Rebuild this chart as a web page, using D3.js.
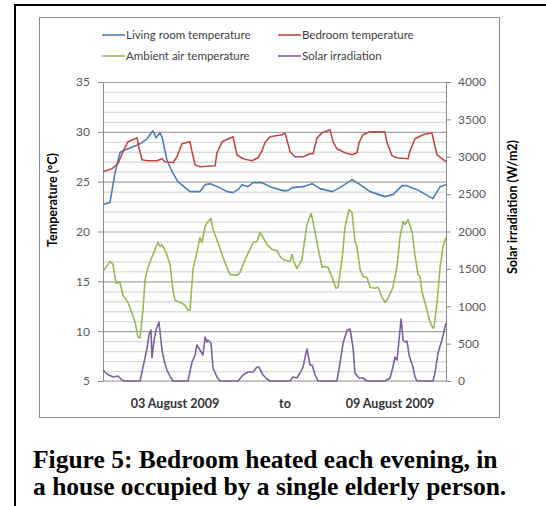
<!DOCTYPE html>
<html>
<head>
<meta charset="utf-8">
<script src="https://cdn.jsdelivr.net/npm/d3@7"></script>
<style>
  body { margin: 0; background: #fff; }
  svg { display: block; }
</style>
</head>
<body>
<div id="chart"></div>
<script>
// hours since start of 03 Aug 2009, value
const livingRoom = [
  [0, 22.7], [3.4, 22.9], [5.9, 25.9], [8.3, 27.9], [9.8, 28.1], [14.7, 28.5], [18.1, 28.8],
  [21.6, 29.3], [24.0, 30.0], [24.5, 30.1], [26.0, 29.4], [27.9, 29.9], [28.9, 29.5], [31.3, 27.2],
  [33.8, 26.0], [36.7, 25.0], [40.2, 24.4], [42.6, 24.0], [47.5, 24.0], [50.0, 24.7], [52.4, 24.8],
  [56.3, 24.5], [60.7, 24.0], [63.7, 23.9], [66.1, 24.2], [68.1, 24.7], [71.0, 24.5], [73.5, 24.9],
  [77.9, 24.9], [81.8, 24.5], [88.2, 24.1], [90.6, 24.1], [92.6, 24.4], [98.0, 24.5], [102.4, 24.8],
  [106.3, 24.3], [112.2, 24.0], [116.1, 24.4], [122.0, 25.2], [125.9, 24.7], [130.8, 24.0],
  [138.1, 23.5], [142.0, 23.7], [146.5, 24.6], [148.9, 24.6], [153.8, 24.2], [161.6, 23.3],
  [165.1, 24.5], [168, 24.7]
];
const bedroom = [
  [0, 26.0], [4.4, 26.3], [7.3, 26.8], [9.8, 28.0], [12.2, 29.0], [15.7, 29.3], [16.7, 29.4],
  [17.6, 28.4], [19.1, 27.2], [21.6, 27.1], [26.4, 27.1], [28.9, 27.3], [30.4, 27.0], [34.3, 26.9],
  [36.2, 27.5], [38.7, 28.8], [42.6, 29.0], [43.6, 28.0], [45.1, 26.7], [47.5, 26.5], [54.9, 26.6],
  [55.8, 27.9], [58.3, 29.0], [63.7, 29.5], [65.6, 27.7], [68.6, 27.3], [73.0, 27.1], [75.9, 27.4],
  [77.9, 28.1], [79.3, 28.9], [81.8, 29.5], [87.7, 29.7], [89.1, 29.9], [90.1, 29.2], [91.6, 28.0],
  [94.0, 27.5], [98.0, 27.5], [101.4, 27.8], [102.9, 27.8], [104.8, 29.4], [107.3, 29.9],
  [111.2, 30.2], [112.7, 29.0], [114.6, 28.3], [118.5, 27.9], [122.0, 27.7], [124.4, 27.9],
  [125.4, 28.9], [127.3, 29.7], [130.8, 30.0], [138.1, 30.0], [139.1, 28.9], [141.6, 27.6],
  [144.0, 27.4], [149.4, 27.3], [150.4, 28.1], [152.8, 29.3], [156.7, 29.7], [161.1, 29.9],
  [162.1, 29.0], [163.6, 27.7], [168, 27.0]
];
const ambient = [
  [0, 16.0], [3.4, 17.0], [4.9, 16.7], [6.4, 14.8], [8.3, 14.9], [9.8, 13.6], [10.8, 13.3],
  [12.2, 12.9], [14.2, 11.8], [15.7, 10.9], [17.1, 9.4], [18.1, 9.3], [19.6, 12.1], [20.6, 15.2],
  [22.0, 16.4], [24.5, 17.7], [26.9, 18.9], [27.9, 18.5], [28.9, 18.7], [31.3, 17.7], [32.8, 16.7],
  [34.3, 14.1], [35.3, 13.1], [38.7, 12.8], [40.2, 12.6], [41.6, 12.1], [42.6, 12.1], [44.1, 16.2],
  [46.0, 17.9], [47.5, 19.4], [48.5, 18.9], [50.0, 20.5], [51.4, 21.0], [52.9, 21.3], [53.9, 20.2],
  [56.3, 18.9], [58.8, 17.4], [60.7, 16.4], [62.2, 15.7], [65.6, 15.6], [67.1, 15.9], [69.6, 17.2],
  [72.0, 18.2], [73.5, 18.9], [75.4, 19.0], [76.9, 19.9], [78.4, 19.4], [80.3, 18.7], [82.8, 18.2],
  [85.2, 18.1], [86.7, 17.5], [88.2, 17.2], [91.6, 17.0], [92.6, 17.7], [93.6, 16.9], [95.0, 16.3],
  [97.5, 17.2], [98.0, 18.0], [99.9, 20.7], [101.9, 21.8], [102.9, 21.0], [104.8, 18.9],
  [107.3, 16.4], [108.7, 16.5], [110.2, 16.4], [112.2, 15.4], [114.1, 14.3], [115.1, 14.4],
  [117.1, 17.2], [118.5, 20.4], [120.5, 22.2], [122.0, 21.9], [123.4, 19.0], [124.4, 18.5],
  [125.9, 16.2], [127.3, 15.5], [129.3, 15.4], [130.8, 14.4], [133.2, 14.3], [134.7, 14.4],
  [136.7, 13.4], [138.1, 12.9], [139.6, 13.3], [142.0, 14.4], [144.0, 16.5], [145.5, 19.5],
  [147.0, 21.0], [148.0, 20.7], [149.4, 21.2], [151.4, 19.9], [152.8, 17.6], [154.3, 15.7],
  [155.3, 15.5], [156.3, 13.9], [158.7, 12.1], [160.2, 10.9], [161.6, 10.3], [162.1, 10.4],
  [163.6, 12.8], [165.1, 16.4], [166.5, 18.5], [168, 19.4]
];
const solar = [
  [0, 147], [2.0, 94], [4.9, 54], [7.3, 67], [9.3, 13], [10.8, 0], [18.1, 0], [19.6, 187],
  [21.6, 441], [22.5, 615], [23.5, 682], [24.0, 308], [25.0, 548], [26.0, 682], [27.4, 789],
  [28.9, 415], [29.9, 281], [31.3, 147], [33.3, 40], [34.3, 0], [41.6, 0], [43.6, 254], [45.1, 348],
  [46.0, 482], [47.5, 415], [49.0, 348], [50.0, 589], [50.9, 522], [51.4, 548], [52.9, 508],
  [53.9, 174], [55.8, 54], [57.3, 0], [66.1, 0], [68.6, 80], [71.0, 120], [73.5, 120], [75.4, 187],
  [76.4, 187], [78.4, 80], [80.3, 27], [81.8, 0], [91.6, 0], [93.1, 54], [95.0, 40], [96.5, 107],
  [98.0, 187], [99.0, 321], [99.9, 428], [101.4, 214], [102.4, 214], [103.9, 80], [105.3, 0],
  [114.6, 0], [116.1, 241], [117.6, 508], [119.6, 682], [121.0, 696], [122.5, 441], [123.4, 107],
  [125.4, 40], [127.3, 40], [129.3, 0], [138.1, 0], [140.6, 40], [142.0, 187], [143.0, 321],
  [144.0, 281], [145.0, 548], [146.0, 829], [147.0, 548], [148.0, 522], [148.9, 535], [149.9, 348],
  [151.8, 187], [152.8, 54], [153.8, 0], [161.6, 0], [162.6, 107], [164.1, 375], [166.0, 548],
  [168, 776]
];
const tempTicks = [5, 10, 15, 20, 25, 30, 35];
const solarTicks = [0, 500, 1000, 1500, 2000, 2500, 3000, 3500, 4000];
const legendItems = ["Living room temperature", "Bedroom temperature", "Ambient air temperature", "Solar irradiation"];
const dateLabels = ["03 August 2009", "to", "09 August 2009"];

const colors = ["#4a7ebb", "#be4b48", "#98b954", "#7d60a0"];

const width = 546, height = 506;
const plot = { left: 103, right: 446, top: 82, bottom: 381 };

const svg = d3.select("#chart").append("svg")
  .attr("width", width)
  .attr("height", height)
  .style("font-family", "Lato, 'Noto Sans', sans-serif");

// outer black frame and chart frame
svg.append("rect")
  .attr("x", 15).attr("y", 5)
  .attr("width", 560).attr("height", 540)
  .attr("fill", "none").attr("stroke", "#000").attr("stroke-width", 2);
svg.append("rect")
  .attr("x", 39.5).attr("y", 17.5)
  .attr("width", 460).attr("height", 400)
  .attr("fill", "none").attr("stroke", "#8c8c8c").attr("stroke-width", 1);

const x = d3.scaleLinear().domain([0, 168]).range([plot.left, plot.right]);
const yT = d3.scaleLinear().domain([5, 35]).range([plot.bottom, plot.top]);
const yS = d3.scaleLinear().domain([0, 4000]).range([plot.bottom, plot.top]);

// gridlines: minor every 1 degree, major every 5
svg.append("g")
  .attr("transform", `translate(${plot.left},0)`)
  .call(d3.axisLeft(yT).tickValues(d3.range(6, 35).filter(v => v % 5 !== 0))
    .tickSize(-(plot.right - plot.left)).tickFormat(""))
  .call(g => g.select(".domain").remove())
  .call(g => g.selectAll("line").attr("stroke", "#dadada").attr("stroke-width", 1.3));
svg.append("g")
  .attr("transform", `translate(${plot.left},0)`)
  .call(d3.axisLeft(yT).tickValues(tempTicks.slice(1))
    .tickSize(-(plot.right - plot.left)).tickFormat(""))
  .call(g => g.select(".domain").remove())
  .call(g => g.selectAll("line").attr("stroke", "#a6a6a6").attr("stroke-width", 1.2));

// axes
const leftAxis = svg.append("g")
  .attr("transform", `translate(${plot.left},0)`)
  .call(d3.axisLeft(yT).tickValues(tempTicks).tickSize(5).tickSizeOuter(0).tickPadding(8));
const rightAxis = svg.append("g")
  .attr("transform", `translate(${plot.right},0)`)
  .call(d3.axisRight(yS).tickValues(solarTicks).tickFormat(d3.format("d"))
    .tickSize(5).tickSizeOuter(0).tickPadding(7));
[leftAxis, rightAxis].forEach(g => {
  g.selectAll(".domain, line").attr("stroke", "#8c8c8c");
  g.selectAll("text").attr("fill", "#595959").style("font-size", "12px")
    .style("font-family", "Lato, 'Noto Sans', sans-serif");
});
svg.append("line")
  .attr("x1", plot.left).attr("x2", plot.right)
  .attr("y1", plot.bottom).attr("y2", plot.bottom)
  .attr("stroke", "#8c8c8c");

// series
const lineT = d3.line().x(d => x(d[0])).y(d => yT(d[1]));
const lineS = d3.line().x(d => x(d[0])).y(d => yS(d[1]));
const series = [
  { data: livingRoom, gen: lineT },
  { data: bedroom, gen: lineT },
  { data: ambient, gen: lineT },
  { data: solar, gen: lineS }
];
series.forEach((s, i) => {
  svg.append("path")
    .datum(s.data)
    .attr("d", s.gen)
    .attr("fill", "none")
    .attr("stroke", colors[i])
    .attr("stroke-width", 1.6)
    .attr("stroke-linejoin", "round");
});

// legend
const legend = svg.append("g").style("font-size", "11.5px");
legendItems.forEach((name, i) => {
  const lx = i % 2 === 0 ? 102 : 278;
  const ly = i < 2 ? 35 : 56;
  legend.append("line")
    .attr("x1", lx).attr("x2", lx + 23)
    .attr("y1", ly).attr("y2", ly)
    .attr("stroke", colors[i]).attr("stroke-width", 1.6);
  legend.append("text")
    .attr("x", lx + 24).attr("y", ly)
    .attr("dy", "0.35em")
    .attr("fill", "#404040")
    .text(name);
});

// axis titles
svg.append("text")
  .attr("transform", "translate(57,200) rotate(-90)")
  .attr("text-anchor", "middle")
  .style("font-size", "12.5px").style("font-weight", "bold")
  .text("Temperature (°C)");
svg.append("text")
  .attr("transform", "translate(517,207) rotate(-90)")
  .attr("text-anchor", "middle")
  .style("font-size", "12.5px").style("font-weight", "bold")
  .text("Solar irradiation (W/m2)");

// date labels
const dateX = [175, 285, 390];
dateLabels.forEach((t, i) => {
  svg.append("text")
    .attr("x", dateX[i]).attr("y", 404)
    .attr("dy", "0.35em")
    .attr("text-anchor", "middle")
    .attr("fill", "#333")
    .style("font-size", "12.5px").style("font-weight", "bold")
    .text(t);
});

// caption
const caption = ["Figure 5: Bedroom heated each evening, in", "a house occupied by a single elderly person."];
caption.forEach((t, i) => {
  svg.append("text")
    .attr("x", 33).attr("y", 468 + i * 27)
    .style("font-family", "'Liberation Serif', 'Times New Roman', serif")
    .style("font-size", "25.5px").style("font-weight", "bold")
    .text(t);
});
</script>
</body>
</html>
